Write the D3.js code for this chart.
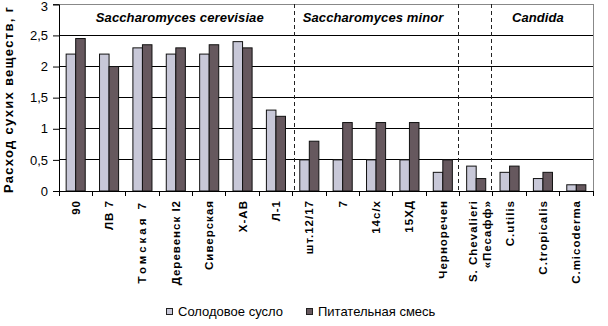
<!DOCTYPE html>
<html><head><meta charset="utf-8">
<script src="https://cdn.jsdelivr.net/npm/d3@7"></script>
<style>
html,body{margin:0;padding:0;background:#fff;}
svg{display:block;}
text{font-family:"Liberation Sans",Arial,sans-serif;}
</style></head>
<body>
<svg id="c" width="608" height="326"></svg>
<script>
const categories = ["90","ЛВ 7","Томская 7","Деревенск I2","Сиверская","Х-АВ","Л-1","шт.12/17","7","14с/х","15ХД","Черноречен","S. Chevalieri\n«Песафф»","C.utilis","C.tropicalis","C.micoderma"];
const seriesNames = ["Солодовое сусло","Питательная смесь"];
const maltWort = [2.2,2.2,2.3,2.2,2.2,2.4,1.3,0.5,0.5,0.5,0.5,0.3,0.4,0.3,0.2,0.1];
const nutrientMix = [2.45,2.0,2.35,2.3,2.35,2.3,1.2,0.8,1.1,1.1,1.1,0.5,0.2,0.4,0.3,0.1];
const yTicks = [0,0.5,1,1.5,2,2.5,3];
const groups = [
  {name:"Saccharomyces cerevisiae", from:0, to:6},
  {name:"Saccharomyces minor", from:7, to:11},
  {name:"", from:12, to:12},
  {name:"Candida", from:13, to:15}
];
const yTitle = "Расход сухих веществ, г";
const colors = ["#c8c8d8","#66585e"];

const svg = d3.select("#c");
const L=59, R=593, T=4.3, B=191;
const x = d3.scaleBand().domain(categories.map((d,i)=>i)).range([L,R]).padding(0);
const x1 = d3.scaleBand().domain([0,1]).range([0,x.bandwidth()]).paddingInner(0).paddingOuter(0.75);
const y = d3.scaleLinear().domain([0,3]).range([B,T]);

// gridlines
svg.append("g").selectAll("line").data(yTicks.filter(v=>v>0&&v<3)).join("line")
  .attr("x1",L).attr("x2",R).attr("y1",d=>y(d)).attr("y2",d=>y(d))
  .attr("stroke","#000").attr("stroke-width",1).attr("shape-rendering","crispEdges");
// top & right border
svg.append("line").attr("x1",L).attr("x2",R).attr("y1",y(3)).attr("y2",y(3)).attr("stroke","#888").attr("shape-rendering","crispEdges");
svg.append("line").attr("x1",R).attr("x2",R).attr("y1",y(3)).attr("y2",B).attr("stroke","#888").attr("shape-rendering","crispEdges");

// dashed separators
const seps=[7,12,13];
svg.append("g").selectAll("line").data(seps).join("line")
  .attr("x1",d=>x(d)+ (d===7?1.5:-1.5)).attr("x2",d=>x(d)+(d===7?1.5:-1.5)).attr("y1",y(3)).attr("y2",B)
  .attr("stroke","#222").attr("stroke-dasharray","4,3").attr("shape-rendering","crispEdges");

// bars
const data = categories.map((c,i)=>[maltWort[i],nutrientMix[i]]);
const cg = svg.append("g").selectAll("g").data(data).join("g").attr("transform",(d,i)=>`translate(${x(i)},0)`);
cg.selectAll("rect").data(d=>d.map((v,k)=>({v,k}))).join("rect")
  .attr("x",d=>x1(d.k)).attr("width",x1.bandwidth())
  .attr("y",d=>y(d.v)).attr("height",d=>B-y(d.v))
  .attr("fill",d=>colors[d.k]).attr("stroke","#111").attr("stroke-width",1);

// y axis
const ya = svg.append("g").attr("transform",`translate(${L},0)`)
  .call(d3.axisLeft(y).tickValues(yTicks).tickSize(6).tickPadding(5).tickFormat(d=>String(d).replace(".",",")));
ya.select(".domain").attr("stroke","#000");
ya.selectAll(".tick line").attr("stroke","#000");
ya.selectAll("text").attr("font-size",13).attr("fill","#000").attr("font-family","'Liberation Sans',Arial,sans-serif")
  .attr("dy",d=>d===3?"0.5em":"0.32em");

// x axis
const xa = svg.append("g").attr("transform",`translate(0,${B})`)
  .call(d3.axisBottom(x).tickSize(0).tickFormat(""));
xa.select(".domain").attr("stroke","#000");
xa.selectAll(".tick").remove();
svg.append("g").selectAll("line").data(d3.range(categories.length+1)).join("line")
  .attr("x1",i=>i<categories.length?x(i):R).attr("x2",i=>i<categories.length?x(i):R)
  .attr("y1",B).attr("y2",B+5).attr("stroke","#000").attr("shape-rendering","crispEdges");

// x labels
const lab = svg.append("g").selectAll("text").data(categories).join("text")
  .attr("transform",(d,i)=>`translate(${x(i)+x.bandwidth()/2+4},200) rotate(-90)`)
  .attr("text-anchor","end").attr("font-size",11.5).attr("font-weight","bold").attr("fill","#000")
  .attr("letter-spacing",(d,i)=>i===2?3:1);
lab.each(function(d){
  const lines=d.split("\n"); const t=d3.select(this);
  lines.forEach((ln,j)=>{
    t.append("tspan").attr("x",0).attr("dy", j===0? (lines.length>1?-3:0) : 14).text(ln);
  });
});

// group labels
svg.append("g").selectAll("text").data(groups.filter(g=>g.name)).join("text")
  .attr("x",g=>(x(g.from)+x(g.to)+x.bandwidth())/2 + (g.name==="Candida"?-5:(g.name.includes("minor")?-3:4)))
  .attr("y",22).attr("text-anchor","middle")
  .attr("font-size",13).attr("font-weight","bold").attr("font-style","italic").attr("letter-spacing",0.1)
  .attr("font-family","'Open Sans',sans-serif").text(g=>g.name);

// y title
svg.append("text").attr("transform","translate(12.5,193) rotate(-90)")
  .attr("text-anchor","start").attr("font-size",13).attr("font-weight","bold")
  .attr("letter-spacing",1.3).text(yTitle);

// legend
const lg = svg.append("g").selectAll("g").data(seriesNames).join("g")
  .attr("transform",(d,i)=>`translate(${i===0?166:306},0)`);
lg.append("rect").attr("x",0.5).attr("y",308.5).attr("width",6).attr("height",6)
  .attr("fill",(d,i)=>colors[i]).attr("stroke","#222");
lg.append("text").attr("x",12).attr("y",316).attr("font-size",13).attr("fill","#000").text(d=>d);
</script>
</body></html>
